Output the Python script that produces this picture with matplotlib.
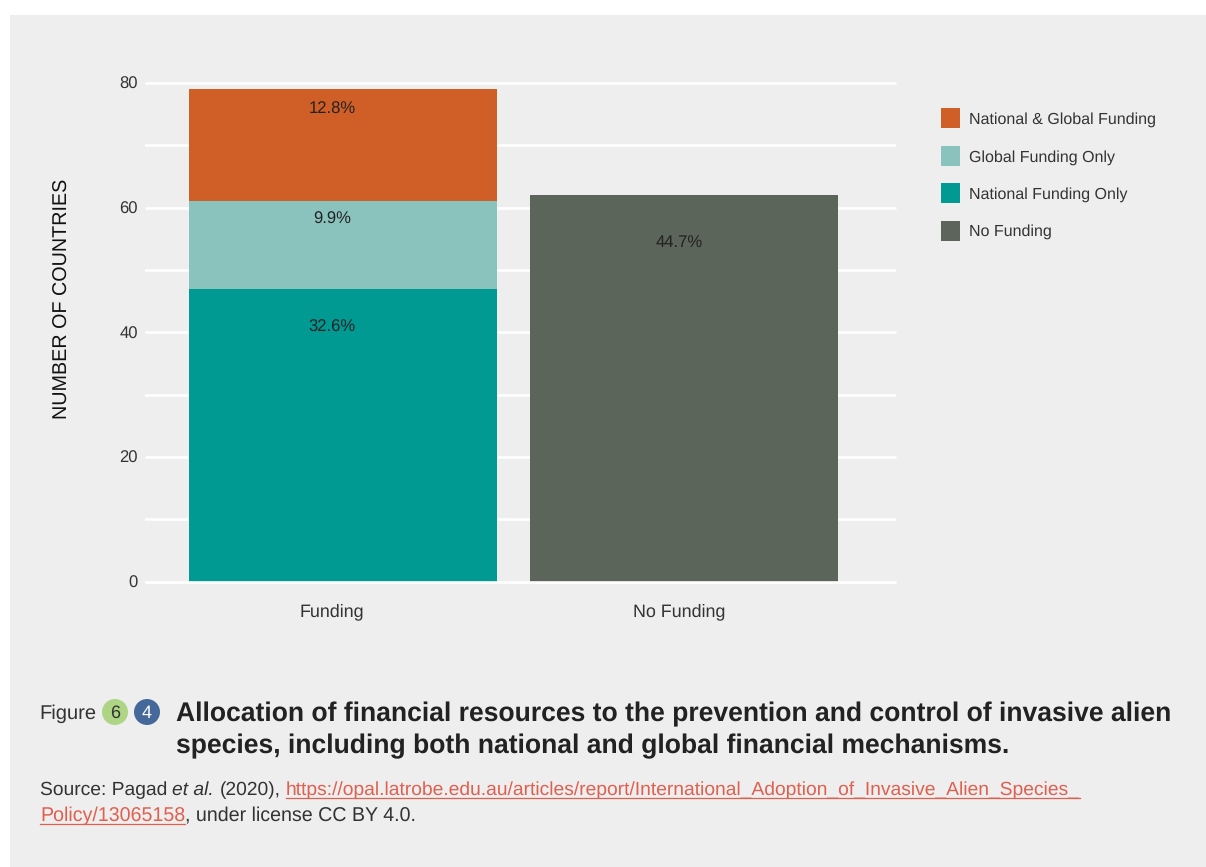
import matplotlib
matplotlib.use('Agg')
import matplotlib.pyplot as plt
from matplotlib.patches import Rectangle, Ellipse, Patch
from matplotlib.lines import Line2D

plt.rcParams['font.family'] = ['Liberation Sans', 'DejaVu Sans']
plt.rcParams['text.hinting'] = 'no_hinting'
plt.rcParams['text.hinting_factor'] = 8

W, H = 1206, 867

categories = ['Funding', 'No Funding']
national_only = [47, 0]
global_only = [14, 0]
both = [18, 0]
no_funding = [0, 62]

series_names = ['National & Global Funding', 'Global Funding Only',
                'National Funding Only', 'No Funding']
series_colors = ['#D05F27', '#8AC2BD', '#009A93', '#5C6559']

pct_labels = ['12.8%', '9.9%', '32.6%', '44.7%']
pct_x = [-0.032, -0.032, -0.032, -0.015 + 1]
pct_y = [75.8, 58.1, 40.8, 54.4]


def fx(px):
    return px / W


def fy(py):
    return 1 - py / H


fig = plt.figure(figsize=(W / 100, H / 100), dpi=100, facecolor='white')
fig.add_artist(Rectangle((fx(10), 0), 1 - fx(10), fy(15), transform=fig.transFigure,
                         facecolor='#EEEEEE', edgecolor='none', zorder=-5))

ax = fig.add_axes([fx(145), fy(581.5), fx(896) - fx(145), fy(83) - fy(581.5)])
ax.patch.set_alpha(0)
for s in ax.spines.values():
    s.set_visible(False)

x = [0, 1]
ax.set_xlim(-198 / 341, 553 / 341)
ax.set_ylim(0, 80)

bottom2 = [a + b for a, b in zip(national_only, global_only)]
bar_w = 308 / 341
ax.bar(x, national_only, bar_w, color=series_colors[2], zorder=3)
ax.bar(x, global_only, bar_w, bottom=national_only, color=series_colors[1], zorder=3)
ax.bar(x, both, bar_w, bottom=bottom2, color=series_colors[0], zorder=3)
ax.bar(x, no_funding, bar_w, color=series_colors[3], zorder=3)
# the zero line sits over the foot of the bars
ax.axhline(0, color='white', linewidth=1.9, solid_capstyle='butt', clip_on=False, zorder=4)

for lab, lx, ly in zip(pct_labels, pct_x, pct_y):
    ax.text(lx, ly, lab, ha='center', va='center', fontsize=12, color='#222222', zorder=5)

ax.set_yticks([0, 20, 40, 60, 80])
ax.set_yticks([10, 30, 50, 70], minor=True)
ax.grid(True, axis='y', which='both', color='white', linewidth=1.9, zorder=1)
ax.set_axisbelow(True)
ax.tick_params(axis='y', which='both', length=0, labelsize=12, labelcolor='#333333', pad=5)
ax.set_xticks([-0.032, 0.985])
ax.set_xticklabels(categories)
ax.tick_params(axis='x', length=0, labelsize=12.9, labelcolor='#333333', pad=15.5)
for ln in ax.yaxis.get_gridlines():
    ln.set_clip_on(False)
    ln.set_solid_capstyle('butt')

fig.text(fx(63), fy(299), 'NUMBER OF COUNTRIES', rotation=90, ha='center', va='center',
         fontsize=14.2, color='#111111')

handles = [Patch(facecolor=c, edgecolor='none') for c in series_colors]
fig.legend(handles, series_names, loc='upper left', bbox_to_anchor=(fx(941), fy(108.5)),
           frameon=False, fontsize=11.5, labelcolor='#333333', borderpad=0, borderaxespad=0,
           handlelength=1.19, handleheight=1.54, handletextpad=0.55, labelspacing=1.1)

# caption
fig.text(fx(39.5), fy(713.5), 'Figure', ha='left', va='center', fontsize=14.5, color='#333333')
fig.add_artist(Ellipse((fx(115), fy(712)), 26 / W, 26 / H, transform=fig.transFigure,
                       facecolor='#AED584', edgecolor='none'))
fig.add_artist(Ellipse((fx(147), fy(712)), 26 / W, 26 / H, transform=fig.transFigure,
                       facecolor='#44689A', edgecolor='none'))
fig.text(fx(115), fy(713), '6', ha='center', va='center', fontsize=13, color='#333333')
fig.text(fx(147), fy(713), '4', ha='center', va='center', fontsize=13, color='white')
fig.text(fx(176), fy(714), 'Allocation of financial resources to the prevention and control of invasive alien',
         ha='left', va='center', fontsize=19.1, fontweight='bold', color='#222222')
fig.text(fx(176), fy(746), 'species, including both national and global financial mechanisms.',
         ha='left', va='center', fontsize=19.1, fontweight='bold', color='#222222')

renderer = fig.canvas.get_renderer()
LINK = '#E0604F'


def run(px, py, s, size, color='#333333', style='normal', underline=False):
    t = fig.text(fx(px), fy(py), s, ha='left', va='baseline', fontsize=size,
                 color=color, style=style)
    end = px + t.get_window_extent(renderer).width
    if underline:
        fig.add_artist(Line2D([fx(px), fx(end)], [fy(py + 2.5), fy(py + 2.5)], color=color,
                              linewidth=0.9, transform=fig.transFigure))
    return end


# the source line is pieced together because of the italics and the link
p = run(40, 795, 'Source: Pagad', 13.87)
p = run(p + 5, 795, 'et al.', 13.87, style='italic')
p = run(p + 6, 795, '(2020),', 13.87)
run(p + 5, 795, 'https://opal.latrobe.edu.au/articles/report/International_Adoption_of_Invasive_Alien_Species_',
    13.87, color=LINK, underline=True)
p = run(40, 821, 'Policy/13065158', 14.1, color=LINK, underline=True)
run(p, 821, ', under license CC BY 4.0.', 14.1)

fig.savefig('out.png', dpi=100, facecolor='white')
